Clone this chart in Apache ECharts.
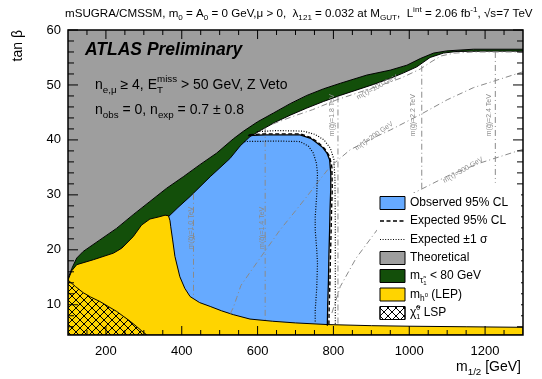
<!DOCTYPE html>
<html>
<head>
<meta charset="utf-8">
<script src="https://cdn.jsdelivr.net/npm/echarts@6/dist/echarts.min.js"></script>
<style>
html, body { margin: 0; padding: 0; background: #fff; }
#chart { width: 542px; height: 379px; }
</style>
</head>
<body>
<div id="chart"></div>
<script>
// axis range and ticks
const xRange = [100, 1300]
const yRange = [4.5, 60]
const xMajor = [200, 400, 600, 800, 1000, 1200]
const xMinor = [150, 250, 300, 350, 450, 500, 550, 650, 700, 750, 850, 900, 950, 1050, 1100, 1150, 1250]
const yMajor = [10, 20, 30, 40, 50, 60]
const yMinor = [6, 8, 12, 14, 16, 18, 22, 24, 26, 28, 32, 34, 36, 38, 42, 44, 46, 48, 52, 54, 56, 58]

// region boundaries, [m1/2, tan beta]
const greenTop = [[100, 14.8], [110, 16.6], [123, 18.5], [140, 19.7], [184, 21.8], [228, 23.9], [272, 26.4], [316, 28.8], [360, 31.2], [404, 33.3], [448, 35.5], [492, 37.6], [536, 40.2], [563, 41.6], [600, 43.3], [642, 44.9], [686, 46.6], [730, 48.1], [774, 49.3], [818, 50.3], [888, 51.8], [950, 52.7], [994, 53.6], [1029, 54.8], [1064, 55.8], [1099, 56.2], [1169, 56.5], [1300, 56.5]]
const greenLow = [[100, 14.3], [123, 17], [167, 17.9], [220, 19.1], [272, 22.1], [316, 25.3], [356, 26], [366, 26.1], [390, 27.7], [422, 29.7], [475, 33.3], [527, 36.6], [554, 38.9], [580, 40.6], [607, 41.7], [646, 43.2], [686, 44.5], [730, 45.8], [774, 47], [818, 48.1], [862, 49.1], [906, 50.1], [950, 51.2], [985, 52.2], [1020, 53.3], [1055, 55], [1090, 55.8], [1126, 56.1], [1200, 56.15], [1300, 56.15]]
const yellowTop = [[100, 14.5], [110, 16.2], [123, 17.3], [167, 18.2], [220, 19.4], [242, 20.3], [272, 22.4], [294, 24.5], [316, 25.6], [340, 26], [356, 26.3], [365, 26.2], [369, 25.3], [371, 24.2], [376, 21.8], [382, 18.8], [395, 15.1], [408, 13], [422, 11.5], [447, 10.4], [475, 9.7], [505, 8.9], [536, 8.2], [580, 7.4], [640, 7], [700, 6.7], [784, 6.4], [900, 6.2], [1000, 6.1], [1150, 6], [1300, 5.9]]
const lspTop = [[100, 14.5], [120, 13.3], [140, 12.2], [160, 11.4], [184, 10.6], [206, 9.7], [228, 8.8], [246, 7.9], [264, 7], [280, 6.1], [295, 5.2], [308, 4.5]]
const obsEdge = [[360, 26.5], [390, 28.5], [422, 30.5], [475, 34.1], [527, 37.4], [554, 39.6]]
const observed = [[575, 40.8], [620, 40.9], [712, 40.9], [740, 40.3], [756, 39.5], [772, 38.6], [783, 37.6], [790, 36.4], [793, 34], [793, 31], [791, 27], [790, 23.6], [788, 18.5], [787, 14.5], [785, 10], [784, 6.2]]
const expected = [[578, 40.95], [620, 41.1], [712, 41.1], [742, 40.4], [760, 39.5], [777, 38.4], [790, 37], [796, 35], [797, 31], [795, 27], [794, 23.6], [792, 18.5], [791, 14.5], [789, 10], [788, 6.3]]
const expUp = [[598, 41.5], [650, 41.7], [720, 41.6], [752, 41], [775, 40], [792, 38.5], [801, 36.5], [804, 33], [805, 25], [805, 15], [805, 6.3]]
const expDown = [[565, 39.7], [650, 39.8], [712, 39.7], [735, 38.8], [747, 37.6], [755, 35.8], [758, 33.9], [756, 30], [752, 26], [752, 23.6], [756, 20], [758, 17.6], [756, 13], [752, 9], [752, 6.9]]

// gluino and stau mass contours
const gluino10 = [[431, 30.2], [431, 11.3]]
const gluino14 = [[620, 42.2], [620, 7.1]]
const gluino18 = [[812, 47.9], [812, 6.4]]
const gluino22 = [[1033, 53.5], [1033, 30.7]]
const gluino24 = [[1227, 56], [1227, 32.2]]
const stau100 = [[640, 42.9], [690, 44.2], [745, 45.5], [809, 47.3], [870, 48.7], [923, 49.9], [980, 51.3], [1029, 52.9], [1060, 54.3], [1085, 55.3], [1120, 55.8], [1169, 56], [1300, 56]]
const stau200 = [[528, 8.4], [536, 9.5], [545, 11.3], [556, 13.5], [580, 15.9], [620, 19.8], [659, 23.6], [700, 27.1], [730, 29.7], [760, 32.4], [791, 35.1], [844, 38.2], [900, 40.2], [950, 41.8], [1029, 44.6], [1100, 47.3], [1169, 49.5], [1300, 52.4]]
const stau300 = [[796, 8.5], [818, 13.3], [860, 18.5], [915, 23.6], [960, 27.2], [1011, 30.3], [1100, 33.4], [1187, 35.8], [1300, 38.3]]
const contourLabels = [
  ['m(g̃)=1.0 TeV', 425, 24, 90], ['m(g̃)=1.4 TeV', 612, 24, 90], ['m(g̃)=1.8 TeV', 797, 44.5, 90],
  ['m(g̃)=2.2 TeV', 1010, 44.5, 90], ['m(g̃)=2.4 TeV', 1211, 44.5, 90],
  ['m(τ̃)=100 GeV', 915, 49.6, 28], ['m(τ̃)=200 GeV', 907, 40.7, 35], ['m(τ̃)=300 GeV', 1142, 34.5, 30]
]

const FAM = '"Liberation Sans", Arial, sans-serif'
const C = { gray: '#9e9e9e', green: '#134f0a', blue: '#66aaff', yellow: '#ffd400', contour: '#8a8a8a' }

// crosshatch for the LSP region
const hatch = document.createElement('canvas')
hatch.width = hatch.height = 8
const hc = hatch.getContext('2d')
hc.strokeStyle = '#000'
hc.lineWidth = 1
hc.beginPath()
hc.moveTo(-1, -1); hc.lineTo(9, 9); hc.moveTo(9, -1); hc.lineTo(-1, 9)
hc.stroke()
const hatchFill = { type: 'pattern', image: hatch, repeat: 'repeat' }

const mctx = document.createElement('canvas').getContext('2d')
const measure = (t, font) => { mctx.font = font; return mctx.measureText(t).width }

// text with sub/superscripts laid out piece by piece
const formulaWidth = (size, parts) => parts.reduce((w, [t, dy = 0, s = 1, stay = false]) =>
  stay ? w : w + measure(t, (size * s) + 'px ' + FAM), 0)
const formula = (x, y, size, parts, extra) => {
  let cx = 0
  const children = parts.map(([t, dy = 0, s = 1, stay = false]) => {
    const font = (size * s) + 'px ' + FAM
    const el = { type: 'text', z: 100, x: cx, y: dy * size, style: { text: t, font, fill: '#000', textAlign: 'left', textVerticalAlign: 'middle', align: 'left', verticalAlign: 'middle' } }
    if (!stay) cx += measure(t, font)
    return el
  })
  return Object.assign({ type: 'group', x, y, z: 100, children }, extra)
}
const SUB = 0.35, SUP = -0.4

const area = (pts, fill, stroke, z) => ({
  type: 'custom', coordinateSystem: 'cartesian2d', silent: true, z, clip: true,
  data: [pts[0]],
  renderItem: (params, api) => ({
    type: 'polygon',
    shape: { points: pts.map(p => api.coord(p)) },
    style: { fill, stroke: stroke || null, lineWidth: 1 }
  })
})
const curve = (pts, stroke, width, dash, z) => ({
  type: 'custom', coordinateSystem: 'cartesian2d', silent: true, z, clip: true,
  data: [pts[0]],
  renderItem: (params, api) => ({
    type: 'polyline',
    shape: { points: pts.map(p => api.coord(p)) },
    style: { fill: null, stroke, lineWidth: width, lineDash: dash || null }
  })
})

// inward ticks on all four sides, placed through the axis scales
const ticks = (vals, dim, len) => ({
  type: 'custom', coordinateSystem: 'cartesian2d', silent: true, z: 20, clip: false,
  data: vals.map(v => dim === 'x' ? [v, yRange[0]] : [xRange[0], v]),
  renderItem: (params, api) => {
    const v = api.value(dim === 'x' ? 0 : 1)
    const ends = dim === 'x'
      ? [[api.coord([v, yRange[0]]), 0, -len], [api.coord([v, yRange[1]]), 0, len]]
      : [[api.coord([xRange[0], v]), len, 0], [api.coord([xRange[1], v]), -len, 0]]
    return {
      type: 'group',
      children: ends.map(([p, dx, dy]) => ({
        type: 'line', shape: { x1: p[0], y1: p[1], x2: p[0] + dx, y2: p[1] + dy },
        style: { stroke: '#000', lineWidth: 1 }
      }))
    }
  }
})
const frame = {
  type: 'custom', coordinateSystem: 'cartesian2d', silent: true, z: 21, clip: false,
  data: [[xRange[0], yRange[1]]],
  renderItem: (params, api) => {
    const a = api.coord([xRange[0], yRange[1]])
    const b = api.coord([xRange[1], yRange[0]])
    return { type: 'rect', shape: { x: a[0], y: a[1], width: b[0] - a[0], height: b[1] - a[1] }, style: { fill: null, stroke: '#000', lineWidth: 1.5 } }
  }
}

const axis = (pos, vals, min, max) => ({
  type: 'value', position: pos, min, max,
  axisLine: { show: false, onZero: false },
  axisTick: { show: false },
  axisLabel: { customValues: vals, formatter: v => String(v), color: '#000', fontSize: 13, fontFamily: FAM, margin: pos === 'bottom' ? 10 : 7 },
  splitLine: { show: false }
})

const chart = echarts.init(document.getElementById('chart'))

const DASHDOT = [6, 3, 1, 3]
const series = [
  area([[100, 60], [1300, 60]].concat(greenTop.slice().reverse()), C.gray, null, 1),
  area(obsEdge.concat(observed, [[784, 5], [360, 5]]), C.blue, null, 2),
  area(greenTop.concat(greenLow.slice().reverse()), C.green, '#000', 3),
  area([[100, 4.5]].concat(yellowTop, [[1300, 4.5]]), C.yellow, '#000', 4),
  area([[100, 4.5]].concat(lspTop), hatchFill, null, 5),
  curve(lspTop, '#000', 1, null, 5),
  curve(gluino10, C.contour, 1, DASHDOT, 6),
  curve(gluino14, C.contour, 1, DASHDOT, 6),
  curve(gluino18, C.contour, 1, DASHDOT, 6),
  curve(gluino22, C.contour, 1, DASHDOT, 6),
  curve(gluino24, C.contour, 1, DASHDOT, 6),
  curve(stau100, C.contour, 1, DASHDOT, 6),
  curve(stau200, C.contour, 1, DASHDOT, 6),
  curve(stau300, C.contour, 1, DASHDOT, 6),
  curve(expUp, '#000', 1.2, [1, 1.6], 7),
  curve(expDown, '#000', 1.2, [1, 1.6], 7),
  curve(expected, '#000', 1.4, [4, 2.5], 7),
  curve(observed, '#000', 1.3, null, 8),
  {
    type: 'custom', coordinateSystem: 'cartesian2d', silent: true, z: 9,
    data: contourLabels.map(l => [l[1], l[2]]),
    renderItem: (params, api) => {
      const l = contourLabels[params.dataIndex]
      const p = api.coord([l[1], l[2]])
      return {
        type: 'text', x: p[0], y: p[1], rotation: l[3] * Math.PI / 180,
        style: { text: l[0], font: '7px ' + FAM, fill: C.contour, textAlign: 'center', textVerticalAlign: 'middle', align: 'center', verticalAlign: 'middle' }
      }
    }
  },
  ticks(xMajor, 'x', 9),
  ticks(xMinor, 'x', 5),
  ticks(yMajor, 'y', 10),
  ticks(yMinor, 'y', 6),
  frame
]

// legend drawn by hand (ROOT style)
const rows = [203, 221, 239.5, 258, 276, 294.5, 313]
const box = (y, fill) => ({ type: 'rect', z: 100, shape: { x: 380, y: y - 6.5, width: 25, height: 13 }, style: { fill, stroke: '#000', lineWidth: 1 } })
const seg = (y, dash, w) => ({ type: 'line', z: 100, shape: { x1: 380, y1: y, x2: 405, y2: y }, style: { stroke: '#000', lineWidth: w, lineDash: dash } })
const LX = 410, LS = 12
const legend = [
  { type: 'rect', z: 99, shape: { x: 377, y: 193, width: 144, height: 127 }, style: { fill: '#fff' } },
  box(rows[0], C.blue), formula(LX, rows[0], LS, [['Observed 95% CL']]),
  seg(rows[1], [4, 2.5], 1.4), formula(LX, rows[1], LS, [['Expected 95% CL']]),
  seg(rows[2], [1, 1.6], 1.2), formula(LX, rows[2], LS, [['Expected ±1 σ']]),
  box(rows[3], C.gray), formula(LX, rows[3], LS, [['Theoretical']]),
  box(rows[4], C.green), formula(LX, rows[4], LS, [['m'], ['τ̃', SUB, 0.7], ['1', 0.65, 0.5], [' < 80 GeV']]),
  box(rows[5], C.yellow), formula(LX, rows[5], LS, [['m'], ['h', SUB, 0.7], ['0', 0.05, 0.5], [' (LEP)']]),
  box(rows[6], '#fff'), box(rows[6], hatchFill),
  formula(LX, rows[6], LS, [['χ̃'], ['1', SUB, 0.6, true], ['0', SUP, 0.6], [' LSP']])
]

const xTitle = [['m'], ['1/2', SUB, 0.7], [' [GeV]']]
const yTitle = [['tan β']]
const graphic = [
  formula(65, 14, 11.6, [['mSUGRA/CMSSM, m'], ['0', SUB, 0.7], [' = A'], ['0', SUB, 0.7], [' = 0 GeV,μ > 0,  λ'], ['121', SUB, 0.7],
    [' = 0.032 at M'], ['GUT', SUB, 0.7], [',  L'], ['int', SUP, 0.7], [' = 2.06 fb'], ['-1', SUP, 0.7], [', √s=7 TeV']]),
  { type: 'text', z: 100, x: 85, y: 50, style: { text: 'ATLAS Preliminary', font: 'italic bold 17.5px ' + FAM, fill: '#000', textAlign: 'left', textVerticalAlign: 'middle', align: 'left', verticalAlign: 'middle' } },
  formula(95, 85, 14, [['n'], ['e,μ', SUB, 0.7], [' ≥ 4, E'], ['T', SUB, 0.7, true], ['miss', SUP, 0.7], [' > 50 GeV, Z Veto']]),
  formula(95, 110, 14, [['n'], ['obs', SUB, 0.7], [' = 0, n'], ['exp', SUB, 0.7], [' = 0.7 ± 0.8']]),
  formula(521 - formulaWidth(14, xTitle), 367, 14, xTitle),
  formula(18, 30 + formulaWidth(14, yTitle), 14, yTitle, { rotation: Math.PI / 2 })
].concat(legend)

chart.setOption({
  animation: false,
  backgroundColor: '#fff',
  grid: { left: 68, right: 19, top: 30, bottom: 44 },
  xAxis: axis('bottom', xMajor, xRange[0], xRange[1]),
  yAxis: axis('left', yMajor, yRange[0], yRange[1]),
  series,
  graphic
})
</script>
</body>
</html>
